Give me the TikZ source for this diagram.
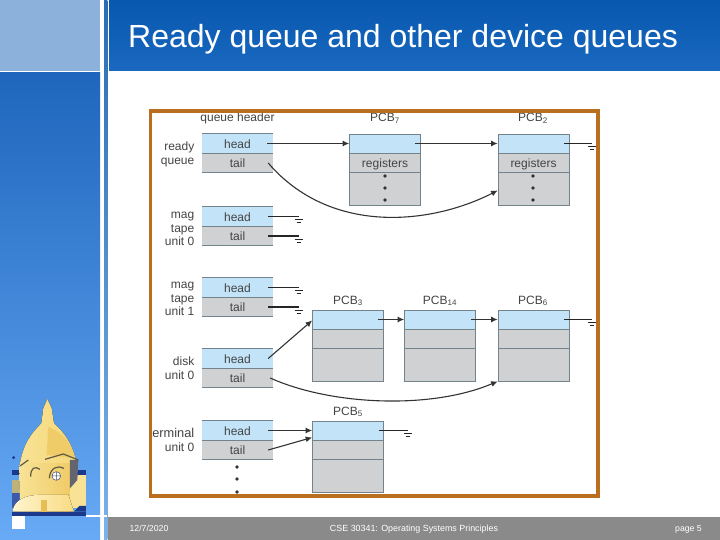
\documentclass[tikz,border=0pt]{standalone}
\usepackage{fontspec}
\setmainfont{Liberation Sans}
\usepackage{xcolor}
\usepackage{tikz}
\usetikzlibrary{arrows.meta}
\definecolor{headblue}{HTML}{C3E4F8}
\definecolor{rowgrey}{HTML}{CFD1D3}
\definecolor{rowline}{HTML}{74828B}
\definecolor{textgrey}{HTML}{444444}
\definecolor{framebrown}{HTML}{B96F1E}
\definecolor{footgrey}{HTML}{8A8A8A}
\definecolor{sidetop}{HTML}{1E66BD}
\definecolor{sidebot}{HTML}{68AAF5}
\definecolor{sidelight}{HTML}{8CB2DC}
\definecolor{stripetop}{HTML}{2C6CB4}
\definecolor{stripebot}{HTML}{7FB2E6}
\definecolor{bandtop}{HTML}{0858B0}
\definecolor{bandbot}{HTML}{1A68C0}
\definecolor{domenavy}{HTML}{1B3A8C}
\definecolor{domeblue}{HTML}{3C5AAA}
\definecolor{dometan}{HTML}{BEB278}
\definecolor{domecream}{HTML}{F8E296}
\definecolor{domegold}{HTML}{F6D878}
\definecolor{domedark}{HTML}{F0CC68}
\definecolor{domebody}{HTML}{F8DC84}
\definecolor{domepale}{HTML}{FFF4CC}
\definecolor{domedoor}{HTML}{E6BE58}
\definecolor{domeshade}{HTML}{64646E}
\definecolor{domeline}{HTML}{5F5A46}
\definecolor{domewin}{HTML}{46506E}
\tikzset{
	rowbox/.style={inner sep=0pt,minimum width=71pt,text=textgrey,text height=9.5pt,text depth=0pt,font=\fontsize{12}{12}\selectfont},
	headbox/.style={rowbox,fill=headblue},
	tailbox/.style={rowbox,fill=rowgrey},
	pcbbox/.style={draw=rowline,line width=0.7pt},
	rowrule/.style={draw=rowline,line width=0.9pt},
	tag/.style={text=textgrey,inner sep=0pt,font=\fontsize{12}{13.5}\selectfont},
	footer/.style={text=white,inner sep=0pt,anchor=base,font=\fontsize{8.7}{9}\selectfont},
	link/.style={draw=black!80,line width=1.1pt,-{Latex[length=6.5pt,width=6pt]}},
	wire/.style={draw=black!85,line width=1.1pt},
	earth/.pic={
		\draw[black!85,line width=1pt] (-4,3) -- (4,3);
		\draw[black!85,line width=1pt] (-2,6) -- (2,6);
	}
}
\begin{document}
\begin{tikzpicture}[x=1pt,y=-1pt]
	\useasboundingbox (0,0) rectangle (720,540);
	% slide background
	\fill[white] (0,0) rectangle (720,540);
	\fill[top color=sidetop,bottom color=sidebot] (0,72.5) rectangle (100,540);
	\fill[sidelight] (0,0) rectangle (100,71);
	\fill[top color=stripetop,bottom color=stripebot] (104,0) rectangle (107.3,540);
	\fill[top color=bandtop,bottom color=bandbot] (109,0) rectangle (720,70.7);
	\fill[footgrey] (108,517) rectangle (720,540);
	\fill[white] (86,515) rectangle (107.3,516.5);
	\fill[white] (12,516) rectangle (25,529);
	\node[text=white,inner sep=0pt,anchor=base west,font=\fontsize{32}{32}\selectfont] (title) at (128,48) {Ready queue and other device queues};
	\node[footer] (date) at (149,531) {12/7/2020};
	\node[footer,font=\fontsize{8.9}{9}\selectfont] (course) at (414,531) {CSE 30341: Operating Systems Principles};
	\node[footer] (page) at (688.5,531) {page 5};
	% dome
	\begin{scope}[shift={(0,380)},x=0.3333pt,y=-0.3333pt]
		\fill[domenavy] (36,270) rectangle (258,285);
		\fill[dometan] (36,300) rectangle (60,340);
		\fill[domeblue] (36,340) rectangle (60,385);
		\fill[domecream] (205,285) rectangle (258,385);
		\fill[domenavy] (36,395) rectangle (258,407);
		\fill[domenavy] (222,395) -- (238,378) -- (258,378) -- (258,395) -- cycle;
		\fill[left color=domecream,right color=domegold] (58,262) .. controls (68,190) and (95,160) .. (124,130) -- (130,85) -- (142,57) -- (155,85) -- (162,130) .. controls (195,160) and (215,190) .. (226,235) -- (205,330) -- (60,330) -- cycle;
		\fill[domedark] (145,140) .. controls (190,160) and (215,190) .. (226,235) -- (140,225) -- cycle;
		\fill[left color=domecream,right color=domedark] (60,250) rectangle (208,395);
		\fill[left color=domepale,right color=domebody] (38,395) .. controls (40,360) and (80,345) .. (115,345) -- (205,345) -- (222,395) -- cycle;
		\fill[domedoor] (122,360) rectangle (140,395);
		\fill[domeshade] (210,240) -- (235,240) -- (232,300) -- (210,325) -- cycle;
		\draw[domeline,line width=1.2pt] (135,238) -- (190,222) -- (235,240);
		\draw[domeline,line width=1.2pt] (60,258) -- (85,240);
		\draw[domeline,line width=1.2pt] (92,290) .. controls (92,262) and (105,258) .. (120,268);
		\draw[domeline,line width=1.2pt] (148,295) .. controls (150,262) and (175,255) .. (192,265);
		\fill[white] (169,288) circle (13);
		\draw[domewin,line width=0.5pt] (169,275) -- (169,301) (156,288) -- (182,288) (169,288) circle (13);
		\fill[domenavy] (41,233) circle (5);
	\end{scope}
	% queue headers
	\foreach \qname/\qtop in {ready/134,magzero/207,magone/278,disk/349,term/421}{
		\node[headbox,minimum height=19.5pt] (\qname head) at (237.5,\qtop+9.5) {head};
		\node[tailbox,minimum height=19pt] (\qname tail) at (237.5,\qtop+29) {tail};
		\draw[rowrule] (\qname head.north west) -- (\qname head.north east);
		\draw[rowrule] (\qname head.south west) -- (\qname head.south east);
		\draw[rowrule] (\qname tail.south west) -- (\qname tail.south east);
	}
	% process control blocks
	\foreach \pname/\px/\ptop/\pmid in {seven/385/134/registers,two/533.5/134/registers,three/348/310/{},fourteen/440/310/{},six/533.5/310/{},five/348/421/{}}{
		\node[headbox,pcbbox,minimum height=19pt] (\pname head) at (\px,\ptop+9.5) {};
		\node[tailbox,pcbbox,minimum height=19pt] (\pname mid) at (\px,\ptop+28.5) {\pmid};
		\node[tailbox,pcbbox,minimum height=33pt] (\pname rest) at (\px,\ptop+54.5) {};
	}
	% labels
	\node[tag,anchor=base] (hdrlabel) at (237.5,122) {queue header};
	\node[tag,anchor=base] (pcbseven) at (385,122) {PCB\textsubscript{7}};
	\node[tag,anchor=base] (pcbtwo) at (533,122) {PCB\textsubscript{2}};
	\node[tag,anchor=base] (pcbthree) at (348,304) {PCB\textsubscript{3}};
	\node[tag,anchor=base] (pcbfourteen) at (440,304) {PCB\textsubscript{14}};
	\node[tag,anchor=base] (pcbsix) at (533,304) {PCB\textsubscript{6}};
	\node[tag,anchor=base] (pcbfive) at (348,415) {PCB\textsubscript{5}};
	\node[tag,align=right,anchor=east] (readylabel) at (194.5,154.5) {ready\\queue};
	\node[tag,align=right,anchor=east] (magzerolabel) at (194.5,229) {mag\\tape\\unit 0};
	\node[tag,align=right,anchor=east] (magonelabel) at (194.5,299) {mag\\tape\\unit 1};
	\node[tag,align=right,anchor=east] (disklabel) at (194.5,368) {disk\\unit 0};
	\node[tag,align=right,anchor=east] (termlabel) at (194.5,440) {\fontsize{12.8}{13.5}\selectfont terminal\\unit 0};
	% more dots
	\foreach \dy in {176,188,200}{
		\fill[black!80] (385,\dy) circle (1.9);
		\fill[black!80] (533,\dy) circle (1.9);
	}
	\foreach \dy in {467,479,492}{
		\fill[black!80] (237,\dy) circle (1.9);
	}
	% links
	\draw[link] ([xshift=-6pt]readyhead.east) -- (sevenhead.west);
	\draw[link] ([xshift=-6pt]sevenhead.east) -- (twohead.west);
	\draw[link] ([xshift=-5pt]readytail.east) .. controls (330,235) and (430,225) .. ([yshift=-2pt]tworest.west);
	\draw[link] ([xshift=-5pt]diskhead.east) -- ([yshift=-1pt]threehead.west);
	\draw[link] ([xshift=-3pt]disktail.east) .. controls (330,405) and (430,410) .. (sixrest.south west);
	\draw[link] ([xshift=-6pt]threehead.east) -- (fourteenhead.west);
	\draw[link] ([xshift=-5pt]fourteenhead.east) -- (sixhead.west);
	\draw[link] ([xshift=-5pt]termhead.east) -- (fivehead.west);
	\draw[link] ([xshift=-5pt]termtail.east) -- ([yshift=-7pt]fivehead.west);
	% grounded ends
	\foreach \nd/\ex in {magzerohead/298.5,magzerotail/298.5,magonehead/298.5,magonetail/298.5,twohead/592,sixhead/592,fivehead/408}{
		\coordinate (\nd end) at (\ex,0 |- \nd.center);
		\draw[wire] ([xshift=-5pt]\nd.east) -- (\nd end);
		\pic at (\nd end) {earth};
	}
	% frame
	\draw[framebrown,line width=3.5pt] (150.7,111) rectangle (598,496);
\end{tikzpicture}
\end{document}
